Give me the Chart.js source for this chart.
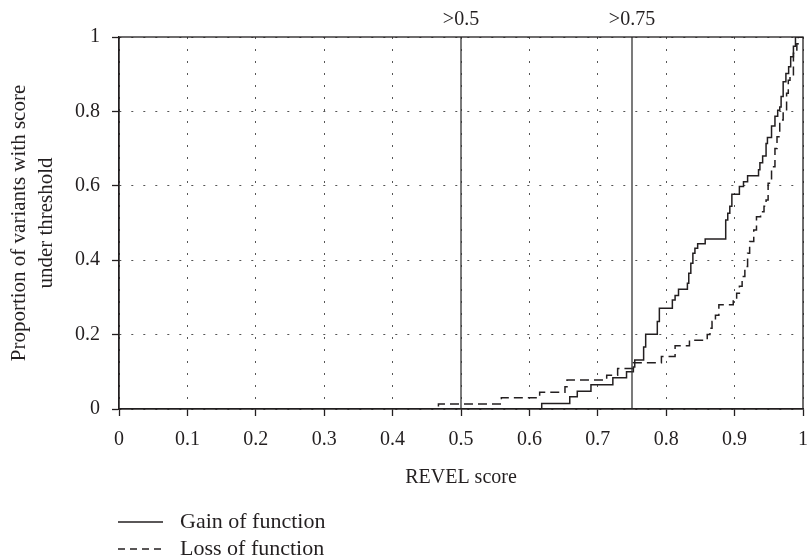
<!DOCTYPE html>
<html>
<head>
  <title>REVEL score - cumulative proportion</title>
  <script src="https://cdn.jsdelivr.net/npm/chart.js"></script>
  <style>
    body { margin: 0; background: #fff; }
  </style>
</head>
<body>
  <canvas id="chart" width="809" height="560"></canvas>
  <script>
    // axis ticks
    var xTicks = [0, 0.1, 0.2, 0.3, 0.4, 0.5, 0.6, 0.7, 0.8, 0.9, 1];
    var yTicks = [0, 0.2, 0.4, 0.6, 0.8, 1];

    // threshold markers
    var thresholds = [0.5, 0.75];
    var thresholdLabels = ['>0.5', '>0.75'];

    var seriesNames = ['Gain of function', 'Loss of function'];

    // Gain of function: score where the step happens, proportion after the step
    var gainScore = [0, 0.618, 0.659, 0.670, 0.690, 0.722, 0.742, 0.752, 0.754, 0.767, 0.770,
      0.787, 0.790, 0.809, 0.813, 0.818, 0.831, 0.833, 0.836, 0.839, 0.842, 0.846, 0.857,
      0.887, 0.890, 0.893, 0.896, 0.907, 0.913, 0.919, 0.935, 0.937, 0.941, 0.946, 0.948,
      0.954, 0.959, 0.963, 0.966, 0.968, 0.971, 0.975, 0.979, 0.982, 0.986, 0.989, 1];
    var gainProp = [0, 0.015, 0.033, 0.048, 0.065, 0.084, 0.100, 0.113, 0.132, 0.167, 0.201,
      0.235, 0.271, 0.293, 0.305, 0.322, 0.338, 0.365, 0.392, 0.419, 0.432, 0.444, 0.457,
      0.508, 0.526, 0.545, 0.577, 0.598, 0.611, 0.627, 0.643, 0.662, 0.680, 0.714, 0.730,
      0.761, 0.787, 0.803, 0.812, 0.840, 0.880, 0.902, 0.920, 0.947, 0.975, 1, 1];

    // Loss of function
    var lossScore = [0, 0.467, 0.559, 0.615, 0.652, 0.655, 0.713, 0.729, 0.752, 0.793, 0.813,
      0.834, 0.860, 0.864, 0.867, 0.872, 0.877, 0.898, 0.903, 0.907, 0.911, 0.915, 0.919,
      0.922, 0.928, 0.932, 0.938, 0.943, 0.946, 0.949, 0.954, 0.959, 0.962, 0.966, 0.971,
      0.976, 0.9785, 0.981, 0.986, 0.991, 0.993, 1];
    var lossProp = [0, 0.0135, 0.030, 0.045, 0.060, 0.078, 0.091, 0.109, 0.124, 0.141, 0.170,
      0.185, 0.200, 0.217, 0.235, 0.252, 0.280, 0.295, 0.311, 0.330, 0.356, 0.383, 0.419,
      0.450, 0.481, 0.517, 0.530, 0.545, 0.562, 0.607, 0.651, 0.700, 0.732, 0.777, 0.800,
      0.849, 0.884, 0.894, 0.956, 0.982, 1, 1];

    var ink = '#231f20';
    var serif = '"Liberation Serif", "DejaVu Serif", serif';
    var font = { family: serif, size: 20, lineHeight: 1.2 };

    function toPoints(xs, ys) {
      return xs.map(function(x, i) { return { x: x, y: ys[i] }; });
    }

    var datasets = thresholds.map(function(t) {
      return {
        data: [{ x: t, y: 0 }, { x: t, y: 1 }],
        borderColor: '#333',
        borderWidth: 1.3,
        pointRadius: 0,
        isThreshold: true
      };
    });
    datasets.push({
      label: seriesNames[0],
      data: toPoints(gainScore, gainProp),
      borderColor: ink,
      borderWidth: 1.5,
      stepped: 'before',
      pointRadius: 0
    });
    datasets.push({
      label: seriesNames[1],
      data: toPoints(lossScore, lossProp),
      borderColor: ink,
      borderWidth: 1.5,
      borderDash: [9, 5],
      stepped: 'before',
      pointRadius: 0
    });

    // threshold labels, outer frame and the legend below the axis
    var decorations = {
      id: 'decorations',
      afterDraw: function(chart) {
        var ctx = chart.ctx;
        var area = chart.chartArea;
        var xs = chart.scales.x;
        ctx.save();
        ctx.strokeStyle = ink;
        ctx.lineWidth = 1.3;
        ctx.strokeRect(area.left, area.top, area.right - area.left, area.bottom - area.top);

        ctx.fillStyle = ink;
        ctx.font = '20px ' + serif;
        ctx.textAlign = 'center';
        ctx.textBaseline = 'middle';
        thresholds.forEach(function(t, i) {
          ctx.fillText(thresholdLabels[i], xs.getPixelForValue(t), area.top - 17);
        });

        // legend
        ctx.font = '22px ' + serif;
        ctx.textAlign = 'left';
        var series = chart.data.datasets.filter(function(d) { return !d.isThreshold; });
        series.forEach(function(d, i) {
          var y = area.bottom + 113 + i * 27;
          ctx.beginPath();
          ctx.setLineDash(d.borderDash ? [7, 5] : []);
          ctx.lineWidth = 1.3;
          ctx.moveTo(area.left - 1, y);
          ctx.lineTo(area.left + 44, y);
          ctx.stroke();
          ctx.setLineDash([]);
          ctx.fillText(d.label, area.left + 61, y);
        });
        ctx.restore();
      }
    };

    new Chart(document.getElementById('chart'), {
      type: 'line',
      data: { datasets: datasets },
      plugins: [decorations],
      options: {
        responsive: false,
        animation: false,
        layout: { padding: { top: 37, right: 6, left: 0, bottom: 0 } },
        plugins: { legend: { display: false }, tooltip: { enabled: false } },
        scales: {
          x: {
            type: 'linear',
            min: 0,
            max: 1,
            afterBuildTicks: function(s) { s.ticks = xTicks.map(function(v) { return { value: v }; }); },
            afterFit: function(s) {
              s.height = 151;
              // keep the plot running up to the right edge
              s.paddingLeft = 0;
              s.paddingRight = 0;
            },
            ticks: {
              color: ink, font: font, padding: 12, maxRotation: 0, autoSkip: false,
              callback: function(v) { return String(v); }
            },
            grid: { color: '#555', lineWidth: 1, tickLength: 7, tickColor: ink, tickWidth: 1.3 },
            border: { color: ink, width: 1.3, dash: [2, 10] },
            title: { display: true, text: 'REVEL score', color: ink, font: font, padding: { top: 0, bottom: 70 } }
          },
          y: {
            type: 'linear',
            min: 0,
            max: 1,
            afterBuildTicks: function(s) { s.ticks = yTicks.map(function(v) { return { value: v }; }); },
            afterFit: function(s) { s.width = 119; },
            ticks: {
              color: ink, font: font, padding: 12,
              callback: function(v) { return String(v); }
            },
            grid: { color: '#555', lineWidth: 1, tickLength: 7, tickColor: ink, tickWidth: 1.3 },
            border: { color: ink, width: 1.3, dash: [2, 10] },
            title: {
              display: true,
              text: ['Proportion of variants with score', 'under threshold'],
              color: ink,
              font: { family: serif, size: 21, lineHeight: 1.3 },
              padding: { top: 6, bottom: 0 }
            }
          }
        }
      }
    });
  </script>
</body>
</html>
